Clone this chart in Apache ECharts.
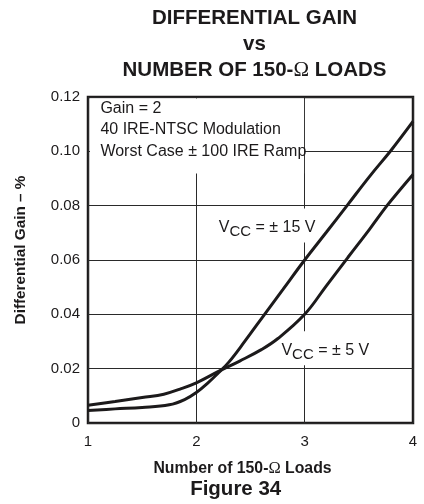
<!DOCTYPE html>
<html><head><meta charset="utf-8">
<script src="https://cdn.jsdelivr.net/npm/echarts@6/dist/echarts.min.js"></script>
<style>html,body{margin:0;padding:0;background:#fff}#c{width:424px;height:504px}</style>
</head><body><div id="c"></div>
<script>
// ---- data ----
const loads15 = [1, 1.25, 1.5, 1.75, 1.9, 2.0, 2.1, 2.2, 2.3, 2.45, 2.63, 2.8, 3.0, 3.2, 3.4, 3.6, 3.8, 4.0];
const gain15  = [0.0046, 0.0052, 0.0057, 0.0067, 0.0088, 0.0112, 0.0145, 0.0183, 0.0224, 0.0302, 0.0400, 0.0492, 0.0600, 0.0702, 0.0805, 0.0908, 0.1005, 0.1110];
const loads5  = [1, 1.25, 1.5, 1.7, 1.85, 2.0, 2.2, 2.4, 2.6, 2.75, 3.0, 3.2, 3.4, 3.6, 3.76, 3.9, 4.0];
const gain5   = [0.0065, 0.0079, 0.0094, 0.0106, 0.0125, 0.0148, 0.0189, 0.0228, 0.0270, 0.0310, 0.0400, 0.0505, 0.0610, 0.0714, 0.0800, 0.0868, 0.0915];
const xTickLabels = ['1', '2', '3', '4'];
const yTickLabels = ['0', '0.02', '0.04', '0.06', '0.08', '0.10', '0.12'];
const titleLines = ['DIFFERENTIAL GAIN', 'vs', 'NUMBER OF 150-', 'Ω', ' LOADS'];
const xName = ['Number of 150-', 'Ω', ' Loads'];
const yName = 'Differential Gain – %';
const caption = 'Figure 34';
const notes = ['Gain = 2', '40 IRE-NTSC Modulation', 'Worst Case ± 100 IRE Ramp'];
const vccLabels = [['V', 'CC', ' = ± 15 V'], ['V', 'CC', ' = ± 5 V']];

const INK = '#1c1a1b';
const SANS = '"Liberation Sans", Arial, sans-serif';
const SERIF = '"Liberation Serif", "Times New Roman", serif';

const zip = (xs, ys) => xs.map((x, i) => [x, ys[i]]);

const chart = echarts.init(document.getElementById('c'), null, { renderer: 'canvas' });
chart.setOption({
  animation: false,
  backgroundColor: '#fff',
  grid: { left: 88, top: 97, width: 325, height: 326, show: true, borderColor: INK, borderWidth: 2.5, backgroundColor: 'transparent' },
  xAxis: {
    type: 'value', min: 1, max: 4, interval: 1,
    axisLine: { show: false }, axisTick: { show: false },
    splitLine: { show: true, lineStyle: { color: '#2a2a2a', width: 1 } },
    axisLabel: { color: INK, fontSize: 15, fontFamily: SANS, margin: 11,
      formatter: v => xTickLabels[Math.round(v - 1)] }
  },
  yAxis: {
    type: 'value', min: 0, max: 0.12, interval: 0.02,
    axisLine: { show: false }, axisTick: { show: false },
    splitLine: { show: true, lineStyle: { color: '#2a2a2a', width: 1 } },
    axisLabel: { color: INK, fontSize: 15, fontFamily: SANS, margin: 8,
      formatter: v => yTickLabels[Math.round(v / 0.02)] }
  },
  series: [
    { name: 'VCC = ±15 V', type: 'line', data: zip(loads15, gain15), smooth: 0.4,
      symbol: 'none', z: 5, lineStyle: { color: INK, width: 3 } },
    { name: 'VCC = ±5 V', type: 'line', data: zip(loads5, gain5), smooth: 0.4,
      symbol: 'none', z: 5, lineStyle: { color: INK, width: 3 } }
  ]
});

const P = (x, y) => chart.convertToPixel({ gridIndex: 0 }, [x, y]);
const ctx = document.createElement('canvas').getContext('2d');
const measure = (t, size, w) => { ctx.font = (w || 'normal') + ' ' + size + 'px ' + SANS; return ctx.measureText(t).width; };

const g = [];
// title
const tcx = 254.5;
g.push({ type: 'text', x: tcx, y: 18.8, z: 10, style: { text: titleLines[0], fill: INK, fontSize: 20.5, fontWeight: 'bold', fontFamily: SANS, align: 'center', verticalAlign: 'middle' } });
g.push({ type: 'text', x: tcx, y: 44.5, z: 10, style: { text: titleLines[1], fill: INK, fontSize: 20.5, fontWeight: 'bold', fontFamily: SANS, align: 'center', verticalAlign: 'middle' } });
g.push({ type: 'text', x: tcx, y: 70.1, z: 10, style: {
  text: '{b|' + titleLines[2] + '}{o|' + titleLines[3] + '}{b|' + titleLines[4] + '}',
  align: 'center', verticalAlign: 'middle',
  rich: { b: { fill: INK, fontSize: 20.5, fontWeight: 'bold', fontFamily: SANS },
          o: { fill: INK, fontSize: 21, fontFamily: SERIF } } } });
// x axis name
g.push({ type: 'text', x: 242.5, y: 468.3, z: 10, style: {
  text: '{b|' + xName[0] + '}{o|' + xName[1] + '}{b|' + xName[2] + '}',
  align: 'center', verticalAlign: 'middle',
  rich: { b: { fill: INK, fontSize: 15.8, fontWeight: 'bold', fontFamily: SANS },
          o: { fill: INK, fontSize: 16.5, fontFamily: SERIF } } } });
// caption
g.push({ type: 'text', x: 235.7, y: 489.2, z: 10, style: { text: caption, fill: INK, fontSize: 20.5, fontWeight: 'bold', fontFamily: SANS, align: 'center', verticalAlign: 'middle' } });
// y axis name
g.push({ type: 'text', x: 21, y: 250, rotation: Math.PI / 2, z: 10, style: { text: yName, fill: INK, fontSize: 15.3, fontWeight: 'bold', fontFamily: SANS, align: 'center', verticalAlign: 'middle' } });

// notes box (top-left)
const tl = P(1, 0.12), x3 = P(3, 0.12)[0];
g.push({ type: 'rect', z: 1, shape: { x: tl[0] + 2, y: tl[1] + 1.5, width: x3 - tl[0] - 2.6, height: 75 }, style: { fill: '#fff' } });
[11.9, 32.9, 54.6].forEach((dy, i) => {
  g.push({ type: 'text', x: tl[0] + 12.4, y: tl[1] + dy, z: 10, style: { text: notes[i], fill: INK, fontSize: 16, fontFamily: SANS, align: 'left', verticalAlign: 'middle' } });
});

// VCC labels with subscripts
const anchors = [[2.2065, 0.0720], [2.785, 0.0268]];
vccLabels.forEach((parts, i) => {
  const a = P(anchors[i][0], anchors[i][1]);
  const wV = measure(parts[0], 16), wS = measure(parts[1], 15), wR = measure(parts[2], 16);
  const total = wV + wS + wR;
  g.push({ type: 'rect', z: 1, shape: { x: a[0] - 5, y: a[1] - 19, width: total + 8, height: 34 }, style: { fill: '#fff' } });
  g.push({ type: 'text', x: a[0], y: a[1], z: 10, style: { text: parts[0], fill: INK, fontSize: 16, fontFamily: SANS, align: 'left', verticalAlign: 'middle' } });
  g.push({ type: 'text', x: a[0] + wV, y: a[1] + 4.4, z: 10, style: { text: parts[1], fill: INK, fontSize: 15, fontFamily: SANS, align: 'left', verticalAlign: 'middle' } });
  g.push({ type: 'text', x: a[0] + wV + wS, y: a[1], z: 10, style: { text: parts[2], fill: INK, fontSize: 16, fontFamily: SANS, align: 'left', verticalAlign: 'middle' } });
});

chart.setOption({ graphic: g });
</script>
</body></html>
